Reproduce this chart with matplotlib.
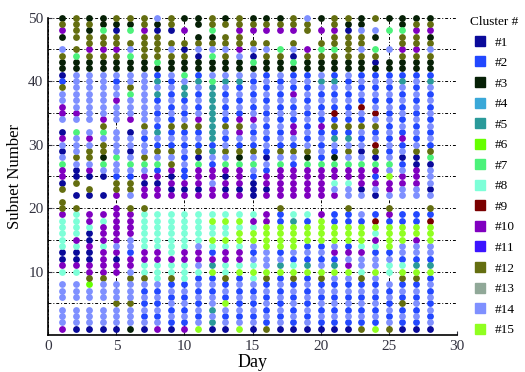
import matplotlib
matplotlib.use('Agg')
import matplotlib.pyplot as plt
from matplotlib.lines import Line2D

# cluster code per subnet for every day
# codes: '1'-'9' -> cluster 1-9, 'a'-'f' -> cluster 10-15, '.' -> no point
days = list(range(1, 29))

# subnets 50 down to 26
top = [
    "3ca3.ec3312ceeaae.1ae1e7a",
    "cccc.c733eeeeeeae.7eeece1",
    "3c3ccac33eeeeeeee.eaeccea",
    "337ccac33eeeeeeeac7ecc37e",
    "c31ccac33e2eeaeee.eeee7ee",
    "c37.ce733eec7eeea.1ee1e7e",
    "ccacccc33eeeeeeeece2eec7e",
    "e31cccc7325e52e2e25e2ce72",
    "cc1.cec33e2e2e2e2c2e2ceca",
    "3.a.c1c337e552e2ec2e2e2e2",
    "33.3ce13325e2e2eac2e2c17a",
    "cc73ce733e755555555525e2a",
    "3c.ccec33e5e2e2e2ce2ece7a",
    "ccaccae33e52e2e2acae2c37a",
    "3ca.ce173e2e2e2eae2e2ce7e",
    "3ca.cec332e2e2e2e2e2e21e2",
    "3ca..7c33e2e2e2e2e2e2ce7a",
    "cca.ce1732e2ae2e2aae2ce2a",
    "ecc..ac332e2e2e2e2e2ec37a",
    "3.a.c7c33e5e2e2e2a2e2e27a",
    "ccacc7c3325e2e292c25e237a",
    "c31cccc33e2e2e2e2c25ece7a",
    "33eccec332e2e29e2ce2e1e7a",
    "c.e3.7c132e2e2e9ec2e9c17a",
    "3.7..e.332e2e2e2e2e2e2e7e",
    "337ccac3325e2e2e2e2a2e12e",
    "3caccac332e2e2e2e2e2ec11a",
    "3ca3cec3325e2e2e2e2e2c71e",
]

# subnets 25 down to 1
bottom = [
    "a1c.cca8888811a8.eee.eeea",
    "1c.1.c8888a811a8.eee.eee1",
    "1.c1..aa811a11aac6ee.eee1",
    "1..1..a8aaa8aaaaceee.eee1",
    "2cca.aaaaaaea1aa.eeeceee1",
    "2cce.caaaaee2aaeceeeceee3",
    "a1aa.c888888aa88ce2e2e2e1",
    "a1aa..888888aa888e2e2e2ea",
    "1a1a..8888888a88c2e2e2e21",
    "2a1a..888888aa8882e2e2e2a",
    "aa1a..88888eaae82e2e2e2ef",
    "aeaa..8f88f82a5f2e2ee5e51",
    "1a1a..8f88f8aa88c2e2fe2e1",
    "aa1a..8f8ff8aa8f2e2e2e2ef",
    "2111..8a8ffe2e8f8e2e2e2e1",
    "aa1a..aaffffeeefc2e2e2e2c",
    "aaaa.c22ffff2e5f2e2e2e2e1",
    "aaaa..85ffffe28fc2e2e2e21",
    "aaaa..82fff2e25f2e2e2e2e1",
    "aaaa..affff2e2efc2e2e2e21",
    "a8ea..22fffea25fe2e2e2e21",
    "a8ee.c22fff2aeafe2e2e2e21",
    "aa1e..e2fff8aee8c2e2e2e2c",
    "2ae1..29f8a82eefe2e2e2e2f",
    "faae.ca2ffff2e88.e2e2e2ec",
    "aaee..22fffee28fc2e2c2e21",
    "aaee..22ffaee25fc2e2e2e21",
    "ee1e.c29fffee25f2e2e2e2e1",
]

cluster_names = ['#%d' % i for i in range(1, 16)]
cluster_colors = ['#0a0a9a', '#2248ff', '#062006', '#3aa8d8', '#2a9a9a',
                  '#66ff00', '#4cf27a', '#7dffd8', '#7a0000', '#8000c0',
                  '#3c14ff', '#646e10', '#90a898', '#7f90ff', '#90ff20']
codes = '123456789abcdef'

plt.rcParams['font.family'] = ['Liberation Serif', 'DejaVu Serif']

fig = plt.figure(figsize=(5.25, 3.72), dpi=100)
ax = fig.add_axes([0.092, 0.0995, 0.778, 0.853])

xs = {c: [] for c in codes}
ys = {c: [] for c in codes}
for d, t, b in zip(days, top, bottom):
    col = t + b
    for i, ch in enumerate(col):
        if ch in xs:
            xs[ch].append(d)
            ys[ch].append(50 - i)

for k, ch in enumerate(codes):
    if xs[ch]:
        ax.scatter(xs[ch], ys[ch], s=24, color=cluster_colors[k],
                   linewidths=0, clip_on=False, zorder=3)

ax.set_xlim(0, 30)
ax.set_ylim(0, 50)
ax.set_xticks(range(0, 31, 5))
ax.set_yticks(range(10, 51, 10))
ax.set_yticks(range(5, 50, 10), minor=True)
ax.set_axisbelow(True)
ax.grid(True, which='both', color='black', linestyle=(0, (3, 2, 1, 2)), linewidth=0.7)
for s in ['top', 'right']:
    ax.spines[s].set_visible(False)
ax.spines['left'].set_linewidth(1.2)
ax.spines['bottom'].set_linewidth(1.2)
ax.tick_params(which='both', direction='in', length=3, labelsize=11, colors='#333340')
ax.tick_params(which='minor', length=0)
ax.set_xlabel('Day', fontsize=13, labelpad=1)
ax.set_ylabel('Subnet Number', fontsize=12, labelpad=4)

handles = [Line2D([], [], marker='s', linestyle='none', markersize=7,
                  markerfacecolor=c, markeredgecolor=c) for c in cluster_colors]
fig.legend(handles, cluster_names, title='Cluster #', loc='upper left',
           bbox_to_anchor=(0.895, 0.957), frameon=False, fontsize=9.5,
           title_fontsize=9.5, labelspacing=0.63, handlelength=1.0,
           handletextpad=0.6, borderpad=0, borderaxespad=0)

fig.savefig('out.png', dpi=100)
